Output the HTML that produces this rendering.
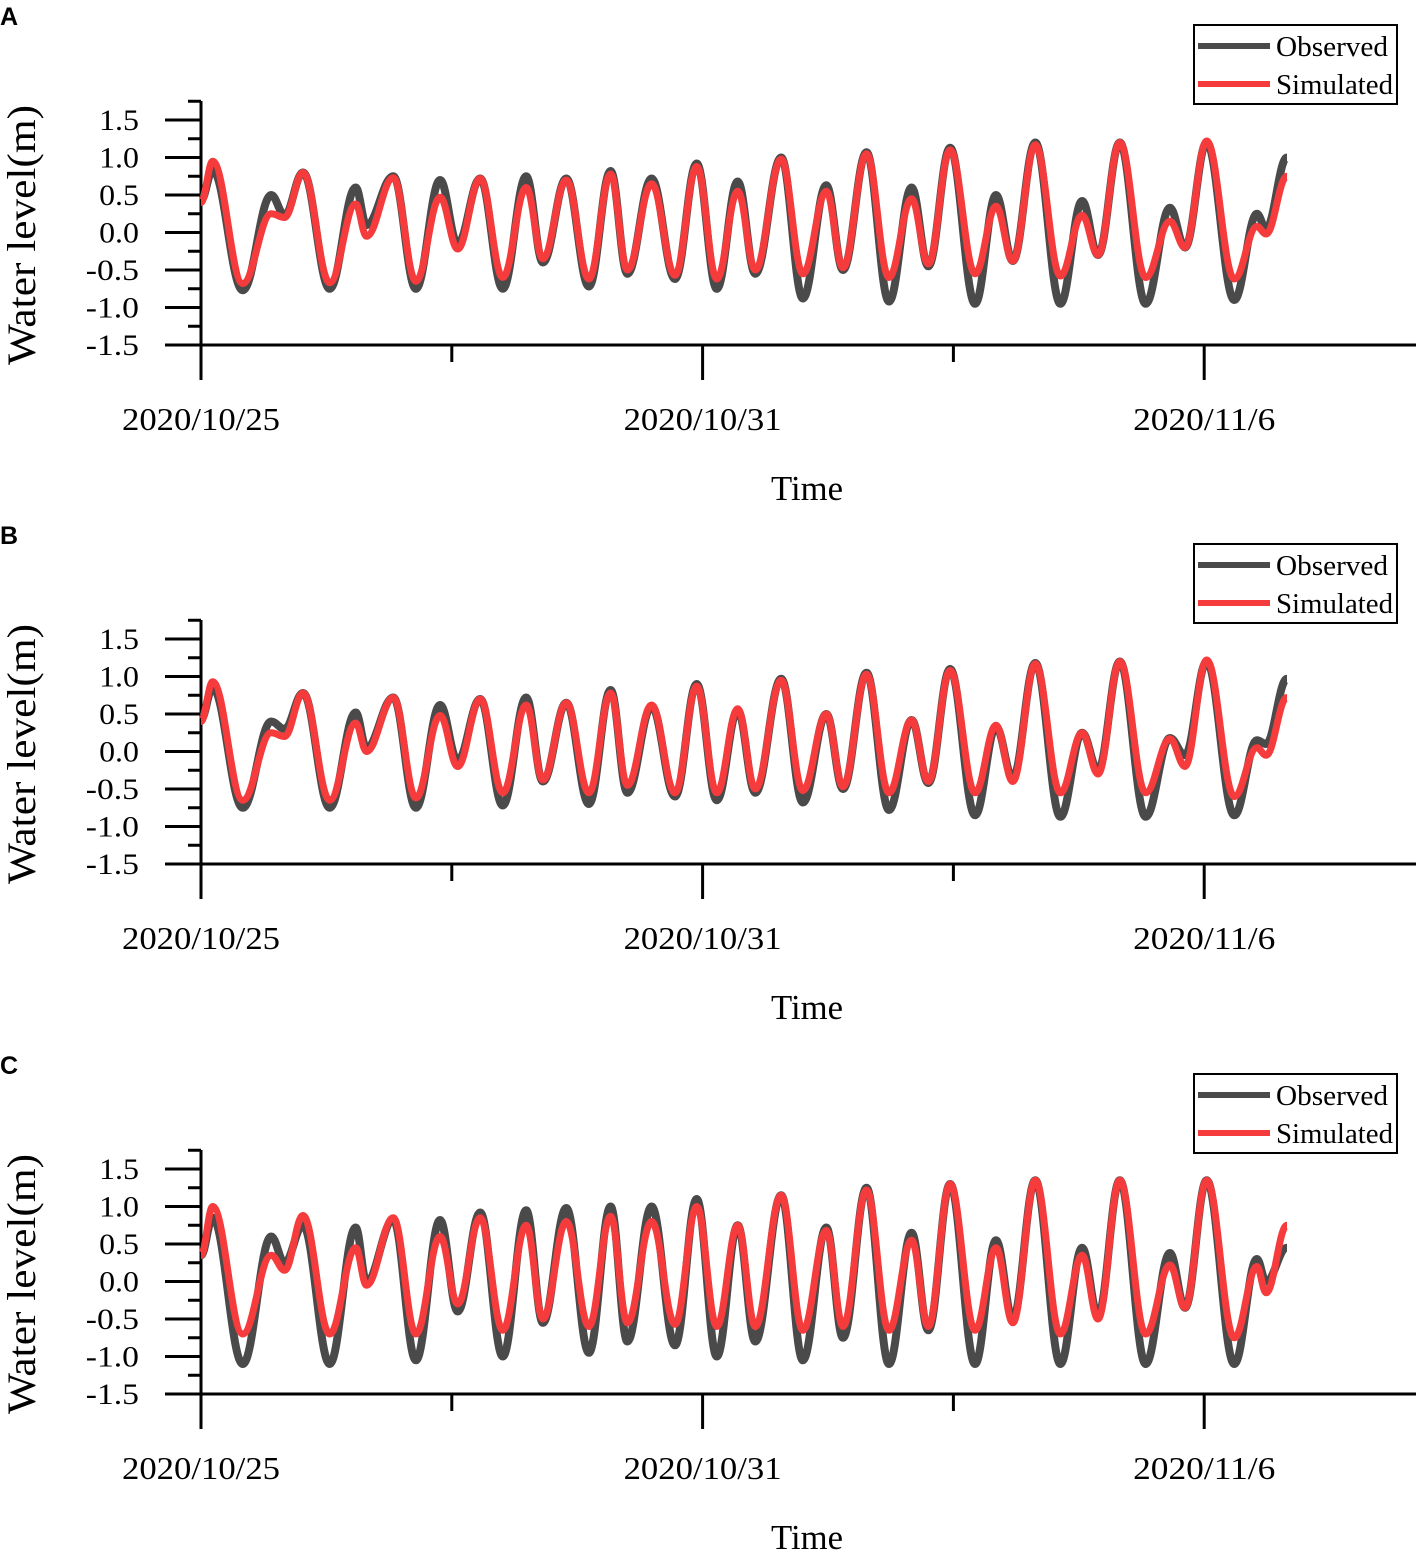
<!DOCTYPE html>
<html><head><meta charset="utf-8"><style>
html,body{margin:0;padding:0;background:#fff;}
svg{display:block;}
text{font-family:"Liberation Serif",serif;fill:#000;}
</style></head><body>
<svg id="chart" width="1419" height="1552" viewBox="0 0 1419 1552" xmlns="http://www.w3.org/2000/svg"></svg>
<script>
// Extreme times (days since 2020/10/25)
const tExt = [0,0.14,0.50,0.84,1.00,1.22,1.54,1.85,1.98,2.30,2.57,2.86,3.07,3.34,3.61,3.89,4.09,4.37,4.64,4.90,5.10,5.39,5.67,5.93,6.17,6.42,6.63,6.94,7.20,7.48,7.68,7.96,8.23,8.50,8.70,8.96,9.26,9.51,9.71,9.98,10.28,10.54,10.73,10.99,11.30,11.59,11.77,12.03,12.36,12.63,12.74,12.99];
const obsA = [0.43,0.83,-0.77,0.5,0.23,0.8,-0.75,0.6,0.1,0.75,-0.75,0.7,-0.15,0.72,-0.75,0.75,-0.4,0.72,-0.72,0.82,-0.55,0.72,-0.62,0.92,-0.75,0.68,-0.55,1.0,-0.88,0.63,-0.5,1.07,-0.92,0.6,-0.45,1.13,-0.95,0.5,-0.38,1.2,-0.95,0.42,-0.3,1.2,-0.95,0.33,-0.2,1.2,-0.9,0.25,0.05,1.0];
const simA = [0.4,0.95,-0.68,0.25,0.2,0.8,-0.67,0.38,-0.05,0.73,-0.65,0.47,-0.22,0.72,-0.6,0.6,-0.35,0.7,-0.62,0.78,-0.5,0.65,-0.57,0.88,-0.62,0.55,-0.5,0.98,-0.55,0.55,-0.47,1.05,-0.6,0.45,-0.42,1.1,-0.55,0.35,-0.38,1.17,-0.58,0.23,-0.3,1.2,-0.6,0.15,-0.2,1.22,-0.62,0.08,-0.02,0.75];
const obsB = [0.43,0.85,-0.75,0.4,0.3,0.78,-0.75,0.52,0.05,0.72,-0.75,0.62,-0.12,0.7,-0.72,0.72,-0.4,0.65,-0.7,0.82,-0.55,0.6,-0.6,0.9,-0.65,0.55,-0.55,0.97,-0.68,0.5,-0.5,1.05,-0.78,0.42,-0.42,1.1,-0.85,0.33,-0.35,1.18,-0.87,0.25,-0.25,1.2,-0.87,0.18,-0.05,1.2,-0.85,0.15,0.1,0.97];
const simB = [0.4,0.93,-0.65,0.25,0.2,0.78,-0.65,0.38,0,0.72,-0.62,0.48,-0.2,0.7,-0.55,0.62,-0.38,0.65,-0.55,0.78,-0.45,0.62,-0.55,0.87,-0.55,0.57,-0.5,0.95,-0.52,0.5,-0.47,1.03,-0.55,0.42,-0.4,1.08,-0.55,0.35,-0.4,1.17,-0.55,0.25,-0.3,1.2,-0.55,0.17,-0.2,1.22,-0.6,0.05,-0.05,0.72];
const obsC = [0.35,0.85,-1.1,0.6,0.25,0.75,-1.1,0.72,0,0.82,-1.05,0.82,-0.4,0.92,-1.0,0.95,-0.55,0.98,-0.95,1.0,-0.8,1.0,-0.85,1.1,-1.0,0.75,-0.8,1.15,-1.05,0.72,-0.75,1.25,-1.1,0.65,-0.65,1.3,-1.1,0.55,-0.5,1.35,-1.1,0.45,-0.45,1.35,-1.1,0.38,-0.35,1.35,-1.1,0.3,0.0,0.45];
const simC = [0.35,1.0,-0.7,0.35,0.15,0.88,-0.7,0.45,-0.05,0.85,-0.7,0.6,-0.3,0.85,-0.65,0.75,-0.5,0.8,-0.6,0.87,-0.55,0.8,-0.57,1.0,-0.6,0.75,-0.6,1.15,-0.65,0.68,-0.6,1.22,-0.65,0.55,-0.6,1.3,-0.65,0.45,-0.55,1.35,-0.7,0.35,-0.5,1.35,-0.7,0.22,-0.35,1.35,-0.75,0.2,-0.15,0.75];
const yTicks = ["1.5","1.0","0.5","0.0","-0.5","-1.0","-1.5"];
const yTickVals = [1.5,1.0,0.5,0.0,-0.5,-1.0,-1.5];
const xTickDays = [0,6,12];
const xTickLabels = ["2020/10/25","2020/10/31","2020/11/6"];
const panels = [
  {letter:"A", off:0, obs:obsA, sim:simA},
  {letter:"B", off:519, obs:obsB, sim:simB},
  {letter:"C", off:1049, obs:obsC, sim:simC}
];
const NS="http://www.w3.org/2000/svg";
const svg=document.getElementById('chart');
function mk(tag,attrs,parent){const e=document.createElementNS(NS,tag);for(const k in attrs)e.setAttribute(k,attrs[k]);parent.appendChild(e);return e;}
const X0=201, PXD=83.6;
function xs(d){return X0+d*PXD;}
function ysFn(off){return v=>off+232.5-v*75;}
function pathFor(t,v,ys){
  let d='M'+xs(t[0]).toFixed(1)+','+ys(v[0]).toFixed(1);
  for(let i=1;i<t.length;i++){
    const x0=xs(t[i-1]),x1=xs(t[i]),y0=ys(v[i-1]),y1=ys(v[i]);
    const dx=(x1-x0)/2.6;
    d+=' C'+(x0+dx).toFixed(1)+','+y0.toFixed(1)+' '+(x1-dx).toFixed(1)+','+y1.toFixed(1)+' '+x1.toFixed(1)+','+y1.toFixed(1);
  }
  return d;
}
panels.forEach(p=>{
  const g=mk('g',{},svg);
  
  
  const ys=ysFn(p.off);
  const L=mk('text',{x:0,y:p.off+25,'font-size':25,'font-weight':'bold',style:'font-family:"Liberation Sans",sans-serif'},g);
  L.textContent=p.letter;
  
  
  const ax=mk('g',{stroke:'#000','stroke-width':3,fill:'none'},g);
  
  
  mk('line',{x1:X0,y1:p.off+101,x2:X0,y2:p.off+380},ax);
  mk('line',{x1:165,y1:ys(-1.5),x2:1416,y2:ys(-1.5)},ax);
  for(let v=-1.5;v<=1.76;v+=0.25){
    const major=Math.abs(v*2-Math.round(v*2))<1e-6;
    mk('line',{x1:major?165:188,y1:ys(v),x2:X0,y2:ys(v)},ax);
  }
  for(let d=0;d<=12;d+=3){
    const major=d%6===0;
    mk('line',{x1:xs(d),y1:ys(-1.5),x2:xs(d),y2:ys(-1.5)+(major?35:17)},ax);
  }
  yTicks.forEach((s,i)=>{
    const t=mk('text',{x:139,y:ys(yTickVals[i])+10,'font-size':30,'text-anchor':'end',textLength:s.length*13.3,lengthAdjust:'spacingAndGlyphs'},g);
    t.textContent=s;
    
    
  });
  xTickDays.forEach((d,i)=>{
    const t=mk('text',{x:xs(d),y:p.off+430,'font-size':32,'text-anchor':'middle',textLength:xTickLabels[i].length*15.8,lengthAdjust:'spacingAndGlyphs'},g);
    t.textContent=xTickLabels[i];
    
    
  });
  const xt=mk('text',{x:807,y:p.off+500,'font-size':35,'text-anchor':'middle',textLength:72,lengthAdjust:'spacingAndGlyphs'},g);
  xt.textContent='Time';
  
  
  const yt=mk('text',{x:0,y:0,'font-size':40,'text-anchor':'middle',textLength:260,lengthAdjust:'spacingAndGlyphs',transform:'translate(35,'+(p.off+235)+') rotate(-90)'},g);
  yt.textContent='Water level(m)';
  
  
  const po=mk('path',{d:pathFor(tExt,p.obs,ys),fill:'none',stroke:'#4a4a4a','stroke-width':8,'stroke-linejoin':'round'},g);
  
  
  const ps=mk('path',{d:pathFor(tExt,p.sim,ys),fill:'none',stroke:'#f53b3b','stroke-width':7,'stroke-linejoin':'round'},g);
  
  
  const lg=mk('g',{},g);
  
  
  mk('rect',{x:1194,y:p.off+25,width:203,height:79,fill:'#fff',stroke:'#000','stroke-width':2},lg);
  mk('line',{x1:1198,y1:p.off+46,x2:1270,y2:p.off+46,stroke:'#4a4a4a','stroke-width':6},lg);
  mk('line',{x1:1198,y1:p.off+84,x2:1270,y2:p.off+84,stroke:'#f53b3b','stroke-width':6},lg);
  const t1=mk('text',{x:1276,y:p.off+56,'font-size':28,textLength:112,lengthAdjust:'spacingAndGlyphs'},lg);
  t1.textContent='Observed';
  
  
  const t2=mk('text',{x:1276,y:p.off+94,'font-size':28,textLength:117,lengthAdjust:'spacingAndGlyphs'},lg);
  t2.textContent='Simulated';
  
  
});
</script>
</body></html>
